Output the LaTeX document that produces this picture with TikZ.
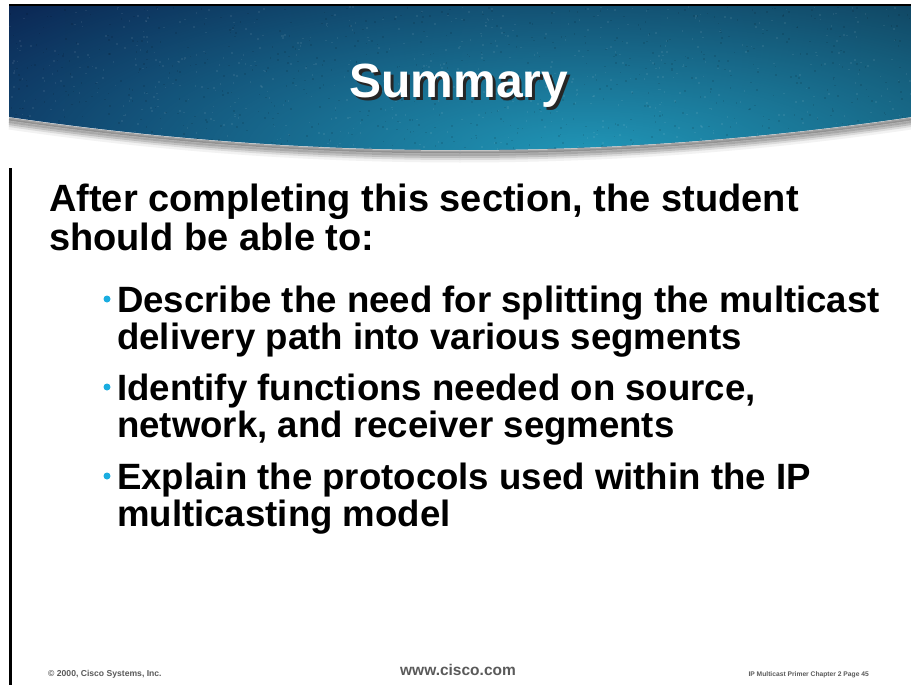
\documentclass[tikz,border=0pt]{standalone}
\usepackage{fontspec}
\setmainfont{Liberation Sans}
\usetikzlibrary{fadings}

\definecolor{bandnavy}{HTML}{0B2754}
\definecolor{bandmid}{HTML}{164C7B}
\definecolor{bandright}{HTML}{0C304C}
\definecolor{bandteal}{HTML}{2197B8}
\definecolor{bulletcyan}{HTML}{1AADE0}
\definecolor{footgray}{HTML}{5A5A5A}

\tikzfading[name=glowfade, inner color=transparent!0, outer color=transparent!100]

\tikzset{
  introtext/.style={anchor=base west, inner sep=0pt, font=\fontsize{38}{38}\selectfont\bfseries},
  itemtext/.style={anchor=base west, inner sep=0pt, font=\fontsize{36.6}{36.6}\selectfont\bfseries},
  bulletdot/.style={circle, fill=bulletcyan, inner sep=0pt, minimum size=7pt},
  footsmall/.style={inner sep=0pt, text=footgray, font=\fontsize{8.6}{8.6}\selectfont\bfseries},
  footweb/.style={anchor=base, inner sep=0pt, text=footgray, font=\fontsize{15.5}{15.5}\selectfont\bfseries},
  titletext/.style={anchor=base, inner sep=0pt, font=\fontsize{48}{48}\selectfont\bfseries},
  frameline/.style={draw=black},
}

\begin{document}
\begin{tikzpicture}[x=1pt, y=-1pt]
\useasboundingbox (0,0) rectangle (911,685);
\fill[white] (0,0) rectangle (911,685);

% soft shadow under the curved banner edge
\foreach \dy/\op/\lw in {10/0.10/5, 8/0.2/4, 6/0.35/4, 4/0.5/4, 2/0.7/3}{
  \draw[black!50, opacity=\op, line width=\lw pt]
    (9,117+\dy) .. controls (310,161+\dy) and (610,161+\dy) .. (911,117+\dy);
}

% banner body: dark horizontal gradient
\shade[left color=bandnavy, middle color=bandmid, right color=bandright]
  (9,6) -- (911,6) -- (911,117) .. controls (610,161) and (310,161) .. (9,117) -- cycle;
\begin{scope}
  \clip (9,6) -- (911,6) -- (911,117) .. controls (610,161) and (310,161) .. (9,117) -- cycle;
  % teal glow toward the lower centre
  \fill[bandteal, path fading=glowfade] (590,155) ellipse (760 and 230);
  % speckled texture
  \pgfmathsetseed{7}
  \foreach \i in {1,...,1400}{
    \pgfmathsetmacro{\px}{9+902*rnd}
    \pgfmathsetmacro{\py}{6+150*rnd}
    \pgfmathsetmacro{\pw}{rnd}
    \ifdim\pw pt>0.5pt
      \fill[white, opacity=0.07] (\px,\py) rectangle ++(1.6,1.6);
    \else
      \fill[black, opacity=0.1] (\px,\py) rectangle ++(1.6,1.6);
    \fi
  }
\end{scope}

% frame lines
\draw[frameline, line width=1.6pt] (9,5) -- (911,5);
\draw[frameline, line width=2.6pt] (10.3,168) -- (10.3,685);

% title with drop shadow
\node[titletext] (title) at (459,98)
  {\rlap{\hspace{2.5pt}\raisebox{-2.5pt}{\color{black!85}Summary}}\textcolor{white}{Summary}};

% introduction
\node[introtext] (intro1) at (49,211) {After completing this section, the student};
\node[introtext] (intro2) at (49,250) {should be able to:};

% bulleted objectives
\node[bulletdot] (b1) at (107,299) {};
\node[itemtext] (item1a) at (117,312) {Describe the need for splitting the multicast};
\node[itemtext] (item1b) at (117,349) {delivery path into various segments};

\node[bulletdot] (b2) at (107,387) {};
\node[itemtext] (item2a) at (117,400) {Identify functions needed on source,};
\node[itemtext] (item2b) at (117,437) {network, and receiver segments};

\node[bulletdot] (b3) at (107,476) {};
\node[itemtext] (item3a) at (117,489) {Explain the protocols used within the IP};
\node[itemtext] (item3b) at (117,526) {multicasting model};

% footer
\node[footsmall, anchor=base west] (copyright) at (48,676) {© 2000, Cisco Systems, Inc.};
\node[footweb] (web) at (458,675) {www.cisco.com};
\node[footsmall, anchor=base east, font=\fontsize{6.7}{6.7}\selectfont\bfseries] (pageref) at (869,676) {IP Multicast Primer Chapter 2 Page 45};
\end{tikzpicture}
\end{document}
